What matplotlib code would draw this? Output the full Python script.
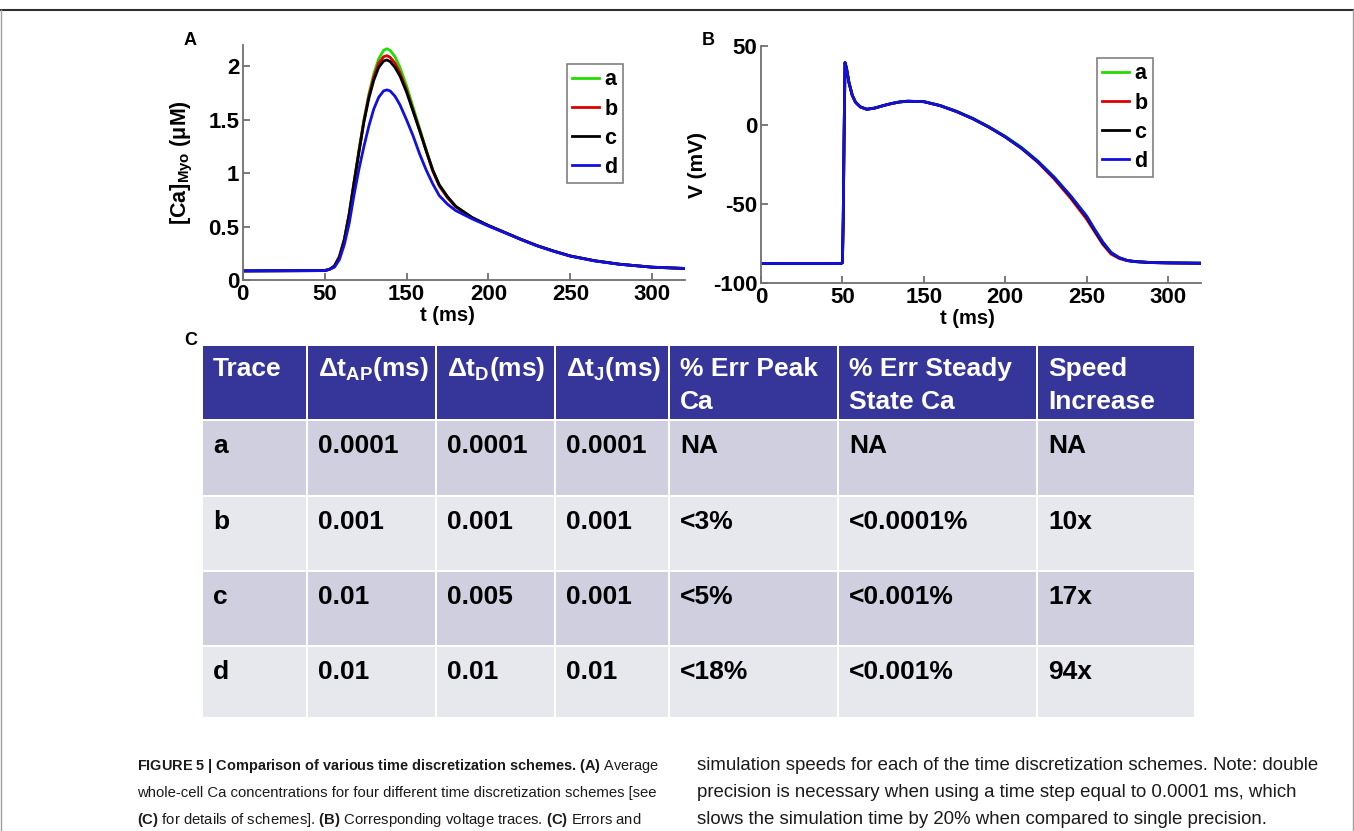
import matplotlib
matplotlib.use('Agg')
import matplotlib.pyplot as plt
from matplotlib.patches import Rectangle
from matplotlib.lines import Line2D

plt.rcParams['font.family'] = ['Liberation Sans', 'DejaVu Sans']
plt.rcParams['font.weight'] = 'bold'
plt.rcParams['axes.labelweight'] = 'bold'
plt.rcParams['axes.unicode_minus'] = False
plt.rcParams['mathtext.fontset'] = 'custom'
plt.rcParams['mathtext.rm'] = 'Liberation Sans:normal'
plt.rcParams['mathtext.bf'] = 'Liberation Sans:bold'
plt.rcParams['mathtext.it'] = 'Liberation Sans:italic:normal'

W, H = 1354, 831

# ---- panel A : myoplasmic Ca (uM) ----
t_ca = [0, 50, 53, 56, 59, 62, 65, 68, 71, 74, 77, 80, 83, 86, 88, 90, 93, 96, 100, 104,
        108, 112, 116, 120, 125, 130, 140, 150, 160, 170, 180, 190, 200, 215, 230, 250, 270]
ca_a = [0.085, 0.088, 0.10, 0.13, 0.22, 0.38, 0.62, 0.92, 1.22, 1.50, 1.74, 1.93, 2.07, 2.15,
        2.165, 2.15, 2.09, 1.99, 1.82, 1.62, 1.42, 1.22, 1.03, 0.89, 0.78, 0.69, 0.585, 0.51,
        0.445, 0.38, 0.32, 0.27, 0.225, 0.18, 0.148, 0.12, 0.108]
ca_b = [0.085, 0.088, 0.10, 0.13, 0.22, 0.38, 0.62, 0.92, 1.21, 1.49, 1.72, 1.90, 2.03, 2.09,
        2.10, 2.085, 2.03, 1.94, 1.78, 1.59, 1.40, 1.21, 1.02, 0.88, 0.77, 0.685, 0.583, 0.51,
        0.445, 0.38, 0.32, 0.27, 0.225, 0.18, 0.148, 0.12, 0.108]
ca_c = [0.085, 0.088, 0.10, 0.13, 0.21, 0.37, 0.61, 0.91, 1.20, 1.48, 1.70, 1.87, 1.99, 2.05,
        2.06, 2.045, 1.99, 1.91, 1.76, 1.58, 1.40, 1.21, 1.03, 0.89, 0.78, 0.69, 0.585, 0.51,
        0.445, 0.38, 0.32, 0.27, 0.225, 0.18, 0.148, 0.12, 0.108]
ca_d = [0.085, 0.088, 0.10, 0.12, 0.19, 0.33, 0.53, 0.80, 1.04, 1.25, 1.44, 1.60, 1.71, 1.77,
        1.78, 1.77, 1.72, 1.64, 1.50, 1.35, 1.18, 1.03, 0.90, 0.79, 0.71, 0.65, 0.573, 0.505,
        0.442, 0.378, 0.318, 0.268, 0.223, 0.178, 0.147, 0.12, 0.108]

# ---- panel B : membrane voltage (mV) ----
t_v = [0, 49, 50, 50.5, 51, 51.6, 52.5, 54, 56, 58, 61, 65, 70, 75, 80, 85, 90, 100, 110, 120,
       130, 140, 150, 160, 170, 180, 190, 200, 205, 210, 215, 220, 225, 230, 240, 250, 260, 270]
v_a = [-87.5, -87.5, -87, -60, -10, 39.5, 36, 27, 19, 14.5, 11.5, 10, 10.8, 12.3, 13.6, 14.6,
       15.1, 14.9, 12.5, 8.9, 4.4, -1.0, -7.0, -14.0, -22.6, -32.6, -44.5, -57.5, -66, -74,
       -80.5, -83.8, -85.6, -86.3, -86.9, -87.1, -87.2, -87.3]
v_b = [-87.5, -87.5, -87, -60, -10, 39.5, 36, 27, 19, 14.5, 11.5, 10, 10.8, 12.3, 13.6, 14.6,
       15.1, 14.8, 12.3, 8.6, 4.1, -1.3, -7.5, -14.8, -23.5, -34, -46, -59.5, -67.5, -75.5,
       -81.5, -84.3, -85.7, -86.3, -86.9, -87.1, -87.2, -87.3]
v_c = [-87.5, -87.5, -87, -60, -10, 39.5, 36, 27, 19, 14.5, 11.5, 10, 10.8, 12.3, 13.6, 14.6,
       15.1, 14.8, 12.3, 8.6, 4.1, -1.3, -7.4, -14.5, -23, -33.2, -45, -58.2, -66.8, -74.8,
       -80.8, -83.9, -85.6, -86.3, -86.9, -87.1, -87.2, -87.3]
v_d = [-87.5, -87.5, -87, -60, -10, 39.5, 36, 27, 19, 14.5, 11.5, 10, 10.8, 12.3, 13.6, 14.6,
       15.1, 14.8, 12.3, 8.6, 4.1, -1.3, -7.4, -14.5, -23, -33, -44.5, -57.5, -66, -74,
       -80.5, -83.8, -85.6, -86.3, -86.9, -87.1, -87.2, -87.3]

traces = ['a', 'b', 'c', 'd']
trace_colors = ['#22dd00', '#dd0000', '#000000', '#1010e0']

x_ticks = [0, 50, 100, 150, 200, 250]
x_tick_labels = ['0', '50', '150', '200', '250', '300']
ca_ticks = [0, 0.5, 1, 1.5, 2]
ca_tick_labels = ['0', '0.5', '1', '1.5', '2']
v_ticks = [-100, -50, 0, 50]
v_tick_labels = ['-100', '-50', '0', '50']

# ---- panel C : table ----
col_headers = ['Trace', 'Δt$_{\\mathbf{AP}}$(ms)', 'Δt$_{\\mathbf{D}}$(ms)', 'Δt$_{\\mathbf{J}}$(ms)',
               '% Err Peak\nCa', '% Err Steady\nState Ca', 'Speed\nIncrease']
dt_ap = ['0.0001', '0.001', '0.01', '0.01']
dt_d = ['0.0001', '0.001', '0.005', '0.01']
dt_j = ['0.0001', '0.001', '0.001', '0.01']
err_peak = ['NA', '<3%', '<5%', '<18%']
err_ss = ['NA', '<0.0001%', '<0.001%', '<0.001%']
speed = ['NA', '10x', '17x', '94x']

# caption lines: (text, bold base font, font size)
caption_left = [
    ('FIGURE 5 | Comparison of various time discretization schemes. (A) $\\mathrm{Average}$', True, 10.45),
    ('whole-cell Ca concentrations for four different time discretization schemes [see', False, 10.7),
    ('$\\mathbf{(C)}$ for details of schemes]. $\\mathbf{(B)}$ Corresponding voltage traces. '
     '$\\mathbf{(C)}$ Errors and', False, 10.7),
]
caption_right = [
    'simulation speeds for each of the time discretization schemes. Note: double',
    'precision is necessary when using a time step equal to 0.0001 ms, which',
    'slows the simulation time by 20% when compared to single precision.',
]

axis_grey = '#707070'
header_blue = '#35359a'
row_colors = ['#cfcfe0', '#e7e7ee']

fig = plt.figure(figsize=(W / 100, H / 100), dpi=100)


def px_axes(l, t, r, b):
    return fig.add_axes([l / W, 1 - b / H, (r - l) / W, (b - t) / H])


def style_axes(ax):
    for s in ['top', 'right']:
        ax.spines[s].set_visible(False)
    for s in ['left', 'bottom']:
        ax.spines[s].set_color(axis_grey)
        ax.spines[s].set_linewidth(1.3)
    ax.tick_params(direction='in', length=5, width=1.3, color=axis_grey,
                   labelsize=16, labelcolor='black')
    ax.tick_params(axis='x', pad=3)
    ax.tick_params(axis='y', pad=2.5)
    ax.set_xlim(0, 270)
    ax.set_xticks(x_ticks)
    ax.set_xticklabels(x_tick_labels)
    ax.set_xlabel('t (ms)', fontsize=14.5, fontweight='bold')


def add_legend(ax, anchor):
    lg = ax.legend(loc='upper left', bbox_to_anchor=anchor, borderaxespad=0,
                   prop={'size': 15.5, 'weight': 'bold'}, handlelength=1.25,
                   handletextpad=0.25, labelspacing=0.38, borderpad=0.25,
                   fancybox=False, framealpha=1)
    lg.get_frame().set_edgecolor('#808080')
    lg.get_frame().set_linewidth(1.2)


# A
axA = px_axes(242.7, 45, 685, 280)
style_axes(axA)
for ys, lab, col in zip([ca_a, ca_b, ca_c, ca_d], traces, trace_colors):
    axA.plot(t_ca, ys, color=col, lw=2, label=lab)
axA.set_ylim(0, 2.2)
axA.set_yticks(ca_ticks)
axA.set_yticklabels(ca_tick_labels)
axA.set_ylabel('[Ca]$_{\\mathbf{Myo}}$ (μM)', fontsize=15.5, fontweight='bold')
axA.yaxis.set_label_coords(-0.108, 0.5)
axA.xaxis.set_label_coords(0.464, -0.11)
add_legend(axA, (0.733, 0.919))

# B
axB = px_axes(761, 46, 1200.6, 283.3)
style_axes(axB)
for ys, lab, col in zip([v_a, v_b, v_c, v_d], traces, trace_colors):
    axB.plot(t_v, ys, color=col, lw=2, label=lab)
axB.set_ylim(-100, 50)
axB.set_yticks(v_ticks)
axB.set_yticklabels(v_tick_labels)
axB.set_ylabel('V (mV)', fontsize=15, fontweight='bold')
axB.yaxis.set_label_coords(-0.123, 0.5)
axB.xaxis.set_label_coords(0.47, -0.108)
add_legend(axB, (0.764, 0.949))

# C table, drawn on a pixel-grid axes
tab = fig.add_axes([0, 0, 1, 1])
tab.set_xlim(0, W)
tab.set_ylim(H, 0)
tab.axis('off')
col_edges = [202, 307, 436, 555, 669, 838, 1037, 1195]
row_edges = [345, 420, 496, 571, 646, 718]
gap = 1.4
columns = [traces, dt_ap, dt_d, dt_j, err_peak, err_ss, speed]
for j, header in enumerate(col_headers):
    x0, x1 = col_edges[j], col_edges[j + 1]
    tab.add_patch(Rectangle((x0 + gap, row_edges[0] + gap), x1 - x0 - 2 * gap,
                            row_edges[1] - row_edges[0] - 2 * gap, color=header_blue, lw=0))
    for k, line in enumerate(header.split('\n')):
        tab.text(x0 + 11, row_edges[0] + 31 + k * 33, line, color='white', fontsize=19,
                 ha='left', va='baseline')
    for i, val in enumerate(columns[j]):
        y0, y1 = row_edges[i + 1], row_edges[i + 2]
        tab.add_patch(Rectangle((x0 + gap, y0 + gap), x1 - x0 - 2 * gap, y1 - y0 - 2 * gap,
                                color=row_colors[i % 2], lw=0))
        tab.text(x0 + 11, y0 + 33, val, color='black', fontsize=19, ha='left', va='baseline')

# panel letters
for x, y, s in [(184, 45, 'A'), (702, 45, 'B'), (184, 345, 'C')]:
    fig.text(x / W, 1 - y / H, s, fontsize=13, ha='left', va='baseline')

# caption
for k, (line, bold, size) in enumerate(caption_left):
    fig.text(137 / W, 1 - (770 + 27 * k) / H, line, fontsize=size,
             fontweight='bold' if bold else 'normal',
             color='#1a1a1a', ha='left', va='baseline')
for k, line in enumerate(caption_right):
    fig.text(697 / W, 1 - (770 + 27 * k) / H, line, fontsize=13.45, fontweight='normal',
             color='#1a1a1a', ha='left', va='baseline')

# page frame
fig.add_artist(Line2D([0, 1], [1 - 9.5 / H] * 2, color='#303030', lw=1.5))
fig.add_artist(Line2D([1352.5 / W] * 2, [0, 1 - 10 / H], color='#a0a0a0', lw=1))
fig.add_artist(Line2D([0.5 / W] * 2, [0, 1 - 10 / H], color='#a0a0a0', lw=1))

fig.savefig('out.png', dpi=100)
